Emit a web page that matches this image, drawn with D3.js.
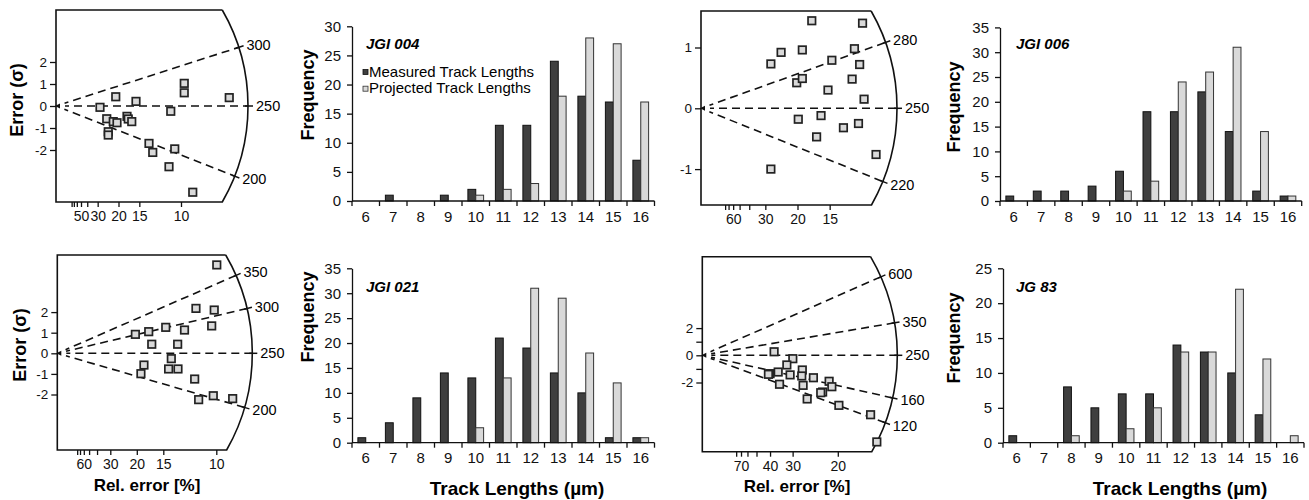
<!DOCTYPE html>
<html>
<head>
<meta charset="utf-8">
<script src="https://cdn.jsdelivr.net/npm/d3@7"></script>
<style>
    body { margin: 0; background: #fff; }
    svg { font-family: "Liberation Sans", Arial, sans-serif; }
</style>
</head>
<body>
<svg id="chart" width="1309" height="500"></svg>
<script>
// track length histograms (counts per 1 µm bin)
const lengthBins = [6, 7, 8, 9, 10, 11, 12, 13, 14, 15, 16];
const jgi004Measured = [0, 1, 0, 1, 2, 13, 13, 24, 18, 17, 7];
const jgi004Projected = [0, 0, 0, 0, 1, 2, 3, 18, 28, 27, 17];
const jgi006Measured = [1, 2, 2, 3, 6, 18, 18, 22, 14, 2, 1];
const jgi006Projected = [0, 0, 0, 0, 2, 4, 24, 26, 31, 14, 1];
const jgi021Measured = [1, 4, 9, 14, 13, 21, 19, 14, 10, 1, 1];
const jgi021Projected = [0, 0, 0, 0, 3, 13, 31, 29, 18, 12, 1];
const jg83Measured = [1, 0, 8, 5, 7, 7, 14, 13, 10, 4, 0];
const jg83Projected = [0, 0, 1, 0, 2, 5, 13, 13, 22, 12, 1];

// radial plots: precision (100 / rel. error %) and standardised error (sigma)
const jgi004Prec = [3.52, 4.78, 6.40, 10.26, 10.26, 13.86, 9.18, 4.06, 4.58, 4.88, 5.68, 5.78, 6.06, 4.18, 4.18, 7.44, 7.74, 9.50, 9.04, 10.94];
const jgi004Z = [-0.06, 0.42, 0.21, 1.03, 0.60, 0.38, -0.24, -0.58, -0.71, -0.76, -0.47, -0.59, -0.71, -1.17, -1.32, -1.70, -2.11, -1.95, -2.76, -3.92];
const jgi006Prec = [5.74, 8.37, 3.62, 4.15, 5.25, 7.95, 6.78, 8.22, 4.96, 5.25, 7.83, 6.58, 8.45, 5.04, 6.22, 7.38, 8.16, 5.99, 9.07, 3.62];
const jgi006Z = [1.44, 1.40, 0.73, 0.92, 0.96, 0.98, 0.79, 0.72, 0.42, 0.49, 0.48, 0.30, 0.15, -0.18, -0.12, -0.32, -0.25, -0.47, -0.76, -1.00];
const jgi021Prec = [10.03, 8.72, 9.87, 9.71, 4.91, 5.75, 6.82, 8.00, 5.94, 7.57, 7.17, 5.45, 5.26, 7.00, 7.59, 8.64, 8.89, 9.81, 11.03];
const jgi021Z = [4.29, 2.18, 2.10, 1.33, 0.92, 1.05, 1.26, 1.13, 0.44, 0.44, -0.26, -0.57, -0.99, -0.76, -0.76, -1.25, -2.25, -2.06, -2.20];
const jg83Prec = [2.65, 3.34, 3.12, 3.69, 3.67, 4.10, 4.68, 4.78, 3.24, 2.80, 2.50, 2.44, 2.85, 3.72, 3.87, 4.44, 4.37, 5.04, 6.21, 6.44];
const jg83Z = [0.26, -0.25, -0.71, -1.08, -1.52, -1.65, -1.91, -2.31, -1.44, -1.23, -1.35, -1.40, -2.13, -2.21, -3.21, -2.70, -2.75, -3.68, -4.37, -6.37];

// ages (Ma) drawn as rays, and axis ticks
const centralAge = 250;
const jgi004Ages = [300, 250, 200];
const jgi006Ages = [280, 250, 220];
const jgi021Ages = [350, 300, 250, 200];
const jg83Ages = [600, 350, 250, 160, 120];

const svg = d3.select('#chart');

const radialPanels = [
    { prec: jgi004Prec, z: jgi004Z, ages: jgi004Ages,
      relTicks: [80, 70, 60, 50, 40, 30, 20, 15, 10], relLabels: [50, 30, 20, 15, 10],
      yTicks: [-2, -1, 0, 1, 2], yLabels: [-2, -1, 0, 1, 2],
      left: 56, top: 10, bottom: 202, oy: 106, R: 192, pxPrec: 12.5, pxSig: 22,
      yTitle: [17, 100], xTitle: null },
    { prec: jgi006Prec, z: jgi006Z, ages: jgi006Ages,
      relTicks: [80, 70, 60, 50, 40, 30, 20, 15], relLabels: [60, 30, 20, 15],
      yTicks: [-1, 0, 1], yLabels: [-1, 0, 1],
      left: 701, top: 11, bottom: 205, oy: 108.3, R: 196, pxPrec: 19.3, pxSig: 60.8,
      yTitle: null, xTitle: null },
    { prec: jgi021Prec, z: jgi021Z, ages: jgi021Ages,
      relTicks: [80, 70, 60, 50, 40, 30, 20, 15, 10], relLabels: [60, 30, 20, 15, 10],
      yTicks: [-2, -1, 0, 1, 2], yLabels: [-2, -1, 0, 1, 2],
      left: 57.3, top: 255, bottom: 450, oy: 353.3, R: 195, pxPrec: 15.9, pxSig: 20.6,
      yTitle: [20, 345], xTitle: [147, 491] },
    { prec: jg83Prec, z: jg83Z, ages: jg83Ages,
      relTicks: [80, 70, 60, 50, 40, 30, 20], relLabels: [70, 40, 30, 20],
      yTicks: [-2, -1, 0, 1, 2], yLabels: [-2, 0, 2],
      left: 702.3, top: 256.7, bottom: 451.7, oy: 355.3, R: 195, pxPrec: 27.1, pxSig: 13.6,
      yTitle: null, xTitle: [797, 492] }
];

const histPanels = [
    { title: 'JGI 004', measured: jgi004Measured, projected: jgi004Projected, yMax: 30,
      left: 352, right: 654.5, top: 26.3, bottom: 201, titlePos: [366, 49], yTitle: [308, 95],
      legend: true, xTitle: null },
    { title: 'JGI 006', measured: jgi006Measured, projected: jgi006Projected, yMax: 35,
      left: 1000, right: 1301.7, top: 27.4, bottom: 201, titlePos: [1016, 49], yTitle: [954, 107],
      legend: false, xTitle: null },
    { title: 'JGI 021', measured: jgi021Measured, projected: jgi021Projected, yMax: 35,
      left: 352, right: 654.5, top: 268.3, bottom: 442.7, titlePos: [366, 291.5], yTitle: [308, 317],
      legend: false, xTitle: [517, 495] },
    { title: 'JG 83', measured: jg83Measured, projected: jg83Projected, yMax: 25,
      left: 1003, right: 1304, top: 268.3, bottom: 442.7, titlePos: [1016, 291.5], yTitle: [954, 338],
      legend: false, xTitle: [1180, 495] }
];

const darkFill = '#3f3f3f';
const lightFill = '#d9d9d9';

function rotatedLabel(g, pos, text) {
    g.append('text')
        .attr('transform', `translate(${pos[0]},${pos[1]}) rotate(-90)`)
        .attr('text-anchor', 'middle')
        .attr('dy', '0.35em')
        .attr('font-size', 18)
        .attr('font-weight', 'bold')
        .text(text);
}

function drawRadial(p) {
    const g = svg.append('g');
    const x = d3.scaleLinear().domain([0, 1]).range([p.left, p.left + p.pxPrec]);
    const y = d3.scaleLinear().domain([0, 1]).range([p.oy, p.oy - p.pxSig]);
    const ox = x(0), oy = y(0);

    // frame: three straight sides plus the arc on the right
    const aTop = Math.asin((oy - p.top) / p.R);
    const aBot = Math.asin((p.bottom - oy) / p.R);
    const frame = d3.path();
    frame.moveTo(ox + p.R * Math.cos(aTop), p.top);
    frame.lineTo(p.left, p.top);
    frame.lineTo(p.left, p.bottom);
    frame.lineTo(ox + p.R * Math.cos(aBot), p.bottom);
    frame.arc(ox, oy, p.R, aBot, -aTop, true);
    g.append('path')
        .attr('d', frame.toString())
        .attr('fill', 'none')
        .attr('stroke', '#111')
        .attr('stroke-width', 1.6);

    // age rays
    p.ages.forEach(age => {
        const s = Math.log(age / centralAge);
        const dx = x(1) - x(0), dy = y(s) - y(0);
        const len = Math.hypot(dx, dy);
        const ux = dx / len, uy = dy / len;
        g.append('line')
            .attr('x1', ox + ux * 9).attr('y1', oy + uy * 9)
            .attr('x2', ox + ux * p.R).attr('y2', oy + uy * p.R)
            .attr('stroke', '#111')
            .attr('stroke-width', 1.6)
            .attr('stroke-dasharray', '8,5')
            .attr('stroke-dashoffset', 4);
        g.append('line')
            .attr('x1', ox + ux * (p.R - 3)).attr('y1', oy + uy * (p.R - 3))
            .attr('x2', ox + ux * (p.R + 5)).attr('y2', oy + uy * (p.R + 5))
            .attr('stroke', '#111')
            .attr('stroke-width', 1.5);
        g.append('text')
            .attr('x', ox + ux * (p.R + 8))
            .attr('y', oy + uy * (p.R + 8))
            .attr('dy', '0.35em')
            .attr('font-size', 14.5)
            .text(age);
    });

    // origin marker
    g.append('path')
        .attr('d', `M${ox - 1},${oy} l5,-2.5 l0,5 z`)
        .attr('fill', '#111');

    // y axis (standardised error)
    const yAxis = d3.axisLeft(y)
        .tickValues(p.yTicks)
        .tickSize(6)
        .tickPadding(3)
        .tickFormat(d => (p.yLabels.includes(d) ? String(d) : ''));
    g.append('g')
        .attr('transform', `translate(${p.left},0)`)
        .call(yAxis)
        .call(a => a.select('.domain').remove())
        .call(a => a.selectAll('line').attr('stroke', '#111').attr('stroke-width', 1.3))
        .call(a => a.selectAll('text').attr('font-size', 13.5).attr('fill', '#111')
            .attr('font-family', '"Liberation Sans", Arial, sans-serif'));

    // x axis (relative error %)
    const xAxis = d3.axisBottom(x)
        .tickValues(p.relTicks.map(r => 100 / r))
        .tickSize(5)
        .tickPadding(4)
        .tickFormat(v => {
            const r = Math.round(100 / v);
            return p.relLabels.includes(r) ? String(r) : '';
        });
    g.append('g')
        .attr('transform', `translate(0,${p.bottom})`)
        .call(xAxis)
        .call(a => a.select('.domain').remove())
        .call(a => a.selectAll('line').attr('stroke', '#111').attr('stroke-width', 1.3))
        .call(a => a.selectAll('text').attr('font-size', 14).attr('fill', '#111')
            .attr('font-family', '"Liberation Sans", Arial, sans-serif'));

    // grains
    const pts = p.prec.map((v, i) => ({ px: v, z: p.z[i] }));
    g.selectAll('rect.grain')
        .data(pts)
        .enter()
        .append('rect')
        .attr('class', 'grain')
        .attr('x', d => x(d.px) - 3.75)
        .attr('y', d => y(d.z) - 3.75)
        .attr('width', 7.5)
        .attr('height', 7.5)
        .attr('fill', lightFill)
        .attr('stroke', '#222')
        .attr('stroke-width', 1.7);

    if (p.yTitle) rotatedLabel(g, p.yTitle, 'Error (σ)');
    if (p.xTitle) {
        g.append('text')
            .attr('x', p.xTitle[0]).attr('y', p.xTitle[1])
            .attr('text-anchor', 'middle')
            .attr('font-size', 17)
            .attr('font-weight', 'bold')
            .text('Rel. error [%]');
    }
}

function drawHist(h) {
    const g = svg.append('g');
    const x = d3.scaleBand()
        .domain(lengthBins)
        .range([h.left, h.right])
        .paddingInner(3 / 7)
        .paddingOuter(1.5 / 7);
    const xs = d3.scaleBand().domain(['measured', 'projected']).range([0, x.bandwidth()]);
    const y = d3.scaleLinear().domain([0, h.yMax]).range([h.bottom, h.top]);

    const rows = lengthBins.map((b, i) => ({ bin: b, measured: h.measured[i], projected: h.projected[i] }));
    const series = [
        { key: 'measured', fill: darkFill, stroke: '#111' },
        { key: 'projected', fill: lightFill, stroke: '#333' }
    ];
    series.forEach(s => {
        g.selectAll(`rect.${s.key}`)
            .data(rows.filter(r => r[s.key] > 0))
            .enter()
            .append('rect')
            .attr('class', s.key)
            .attr('x', d => x(d.bin) + xs(s.key))
            .attr('y', d => y(d[s.key]))
            .attr('width', xs.bandwidth())
            .attr('height', d => y(0) - y(d[s.key]))
            .attr('fill', s.fill)
            .attr('stroke', s.stroke)
            .attr('stroke-width', 1);
    });

    // y axis
    g.append('g')
        .attr('transform', `translate(${h.left},0)`)
        .call(d3.axisLeft(y).tickValues(d3.range(0, h.yMax + 1, 5)).tickSize(5).tickSizeOuter(0).tickPadding(6))
        .call(a => a.selectAll('line, path').attr('stroke', '#111').attr('stroke-width', 1.3))
        .call(a => a.selectAll('text').attr('font-size', 15).attr('fill', '#111')
            .attr('font-family', '"Liberation Sans", Arial, sans-serif'));

    // x axis: labels centred on bins, tick marks between bins
    g.append('g')
        .attr('transform', `translate(0,${h.bottom})`)
        .call(d3.axisBottom(x).tickSize(0).tickPadding(10))
        .call(a => a.select('.domain').remove())
        .call(a => a.selectAll('text').attr('font-size', 15).attr('fill', '#111')
            .attr('font-family', '"Liberation Sans", Arial, sans-serif'));
    const step = x.step();
    const bounds = d3.range(lengthBins.length + 1).map(i => h.left + i * step);
    g.append('line')
        .attr('x1', h.left).attr('x2', h.right)
        .attr('y1', y(0)).attr('y2', y(0))
        .attr('stroke', '#111').attr('stroke-width', 1.3);
    g.selectAll('line.btick')
        .data(bounds)
        .enter()
        .append('line')
        .attr('class', 'btick')
        .attr('x1', d => d).attr('x2', d => d)
        .attr('y1', y(0)).attr('y2', y(0) + 5)
        .attr('stroke', '#111').attr('stroke-width', 1.3);

    g.append('text')
        .attr('x', h.titlePos[0]).attr('y', h.titlePos[1])
        .attr('font-size', 15)
        .attr('font-weight', 'bold')
        .attr('font-style', 'italic')
        .text(h.title);

    rotatedLabel(g, h.yTitle, 'Frequency');

    if (h.legend) {
        const items = [
            { label: 'Measured Track Lengths', fill: darkFill, stroke: '#111' },
            { label: 'Projected Track Lengths', fill: lightFill, stroke: '#333' }
        ];
        const lg = g.append('g').attr('transform', `translate(${h.titlePos[0] - 3},0)`);
        items.forEach((it, i) => {
            const by = 76.5 + i * 16.7;
            lg.append('rect')
                .attr('x', 0).attr('y', by - 7)
                .attr('width', 5).attr('height', 5)
                .attr('fill', it.fill).attr('stroke', it.stroke).attr('stroke-width', 0.8);
            lg.append('text')
                .attr('x', 6).attr('y', by)
                .attr('font-size', 15)
                .text(it.label);
        });
    }

    if (h.xTitle) {
        g.append('text')
            .attr('x', h.xTitle[0]).attr('y', h.xTitle[1])
            .attr('text-anchor', 'middle')
            .attr('font-size', 19)
            .attr('font-weight', 'bold')
            .text('Track Lengths (µm)');
    }
}

radialPanels.forEach(drawRadial);
histPanels.forEach(drawHist);
</script>
</body>
</html>
